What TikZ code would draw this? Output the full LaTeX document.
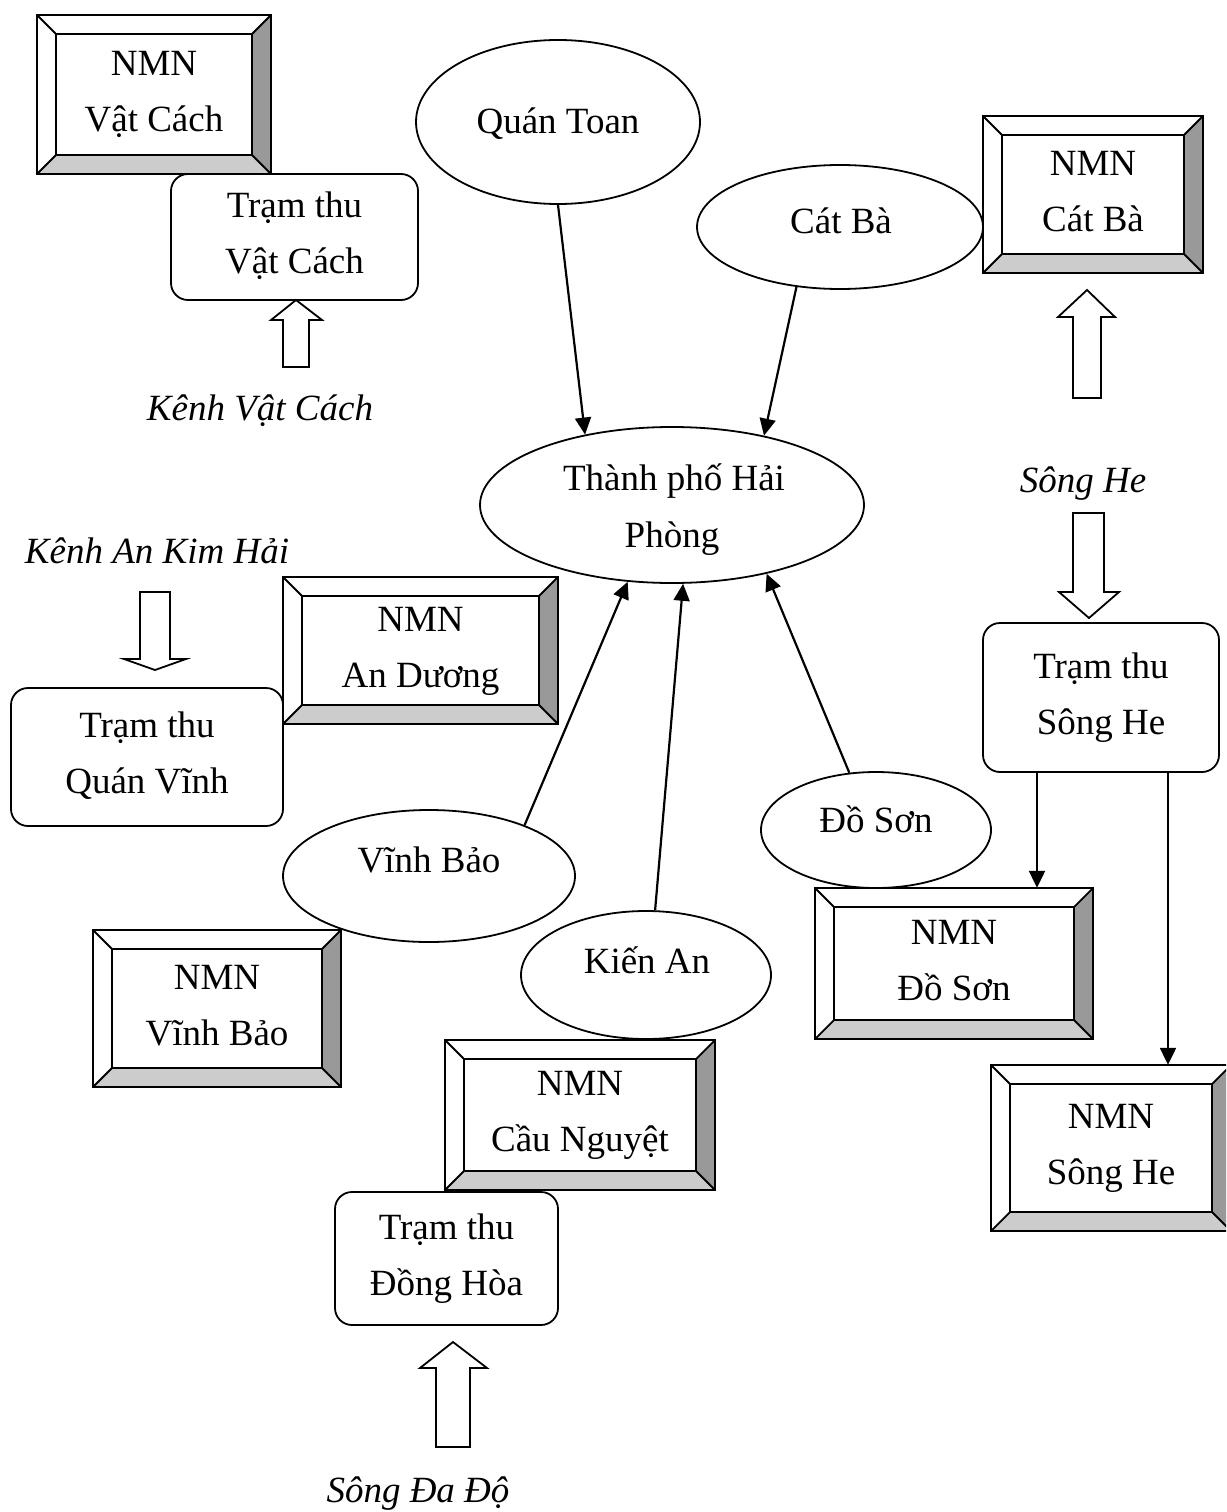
\documentclass[tikz,border=0pt]{standalone}
\usepackage{fontspec}
\setmainfont{Liberation Serif}
\usetikzlibrary{shapes.geometric,arrows.meta}
\definecolor{bevdark}{HTML}{999999}
\definecolor{bevlight}{HTML}{CCCCCC}
\newcommand\twoline[2]{\rule{0pt}{26pt}#1\\#2\rule[-9pt]{0pt}{9pt}}
\tikzset{
  txt/.style={font=\fontsize{37}{56}\selectfont, inner sep=0pt},
  itxt/.style={font=\fontsize{37}{56}\selectfont\itshape, inner sep=0pt, anchor=base},
  bevnode/.style={rectangle, draw=none, fill=white, inner sep=0pt, align=center,
    font=\fontsize{37}{56}\selectfont},
  bevline/.style={draw=black, line width=1.8pt, line join=miter},
  rbox/.style={rectangle, draw=black, fill=white, line width=1.8pt, rounded corners=17pt,
    inner sep=0pt, align=center, font=\fontsize{37}{56}\selectfont},
  ell/.style={ellipse, draw=black, fill=white, line width=1.8pt, inner sep=0pt},
  arr/.style={line width=2.2pt, -{Triangle[length=17pt,width=16pt]}},
  blockarrow/.style={draw=black, fill=white, line width=1.8pt, line join=miter}
}
\newcommand\bevbox[7]{%
  \node[bevnode, minimum width=#4pt, minimum height=#5pt] (#1) at (#2,#3) {\twoline{#6}{#7}};
  \fill[bevdark] (#1.north east) -- (#1.south east) -- ([shift={(-19pt,19pt)}]#1.south east) -- ([shift={(-19pt,-19pt)}]#1.north east) -- cycle;
  \fill[bevlight] (#1.south west) -- (#1.south east) -- ([shift={(-19pt,19pt)}]#1.south east) -- ([shift={(19pt,19pt)}]#1.south west) -- cycle;
  \draw[bevline] (#1.south west) rectangle (#1.north east);
  \draw[bevline] ([shift={(19pt,19pt)}]#1.south west) rectangle ([shift={(-19pt,-19pt)}]#1.north east);
  \draw[bevline] (#1.south west) -- ([shift={(19pt,19pt)}]#1.south west);
  \draw[bevline] (#1.south east) -- ([shift={(-19pt,19pt)}]#1.south east);
  \draw[bevline] (#1.north west) -- ([shift={(19pt,-19pt)}]#1.north west);
  \draw[bevline] (#1.north east) -- ([shift={(-19pt,-19pt)}]#1.north east);
}
\begin{document}
\begin{tikzpicture}[x=1pt,y=-1pt]
\useasboundingbox (0,0) rectangle (1226,1512);
\clip (0,0) rectangle (1226,1512);
\fill[white] (0,0) rectangle (1226,1512);

% Ellipses
\node[ell, minimum width=284pt, minimum height=164pt] (qt) at (558,122) {};
\node[ell, minimum width=286pt, minimum height=124pt] (cb) at (840,227) {};
\node[ell, minimum width=384pt, minimum height=156pt] (hp) at (672,505) {};
\node[ell, minimum width=230pt, minimum height=116pt] (ds) at (876,830) {};
\node[ell, minimum width=292pt, minimum height=132pt] (vb) at (429,876) {};
\node[ell, minimum width=250pt, minimum height=128pt] (ka) at (646,975) {};

\node[txt, anchor=base] (qtl) at (558,133) {Quán Toan};
\node[txt, anchor=base] (cbl) at (841,233) {Cát Bà};
\node[txt, anchor=base] (hpl1) at (674,490) {Thành phố Hải};
\node[txt, anchor=base] (hpl2) at (672,547) {Phòng};
\node[txt, anchor=base] (dsl) at (876,832) {Đồ Sơn};
\node[txt, anchor=base] (vbl) at (429,872) {Vĩnh Bảo};
\node[txt, anchor=base] (kal) at (647,973) {Kiến An};

% Bevel boxes
\bevbox{nvc}{154}{94.5}{234}{159}{NMN}{Vật Cách}
\bevbox{ncb}{1093}{194.5}{220}{157}{NMN}{Cát Bà}
\bevbox{nad}{420.5}{650.5}{275}{147}{NMN}{An Dương}
\bevbox{nvb}{217}{1008.5}{248}{157}{NMN}{Vĩnh Bảo}
\bevbox{ncn}{580}{1115}{270}{150}{NMN}{Cầu Nguyệt}
\bevbox{nds}{954}{963.5}{278}{151}{NMN}{Đồ Sơn}
\bevbox{nsh}{1111}{1148}{240}{166}{NMN}{Sông He}

% Rounded boxes
\node[rbox, minimum width=247pt, minimum height=126pt] (tvc) at (294.5,237) {\twoline{Trạm thu}{Vật Cách}};
\node[rbox, minimum width=272pt, minimum height=138pt] (tqv) at (147,757) {\twoline{Trạm thu}{Quán Vĩnh}};
\node[rbox, minimum width=236pt, minimum height=149pt] (tsh) at (1101,697.5) {\twoline{Trạm thu}{Sông He}};
\node[rbox, minimum width=223pt, minimum height=133pt] (tdh) at (446.5,1258.5) {\twoline{Trạm thu}{Đồng Hòa}};

% Italic labels
\node[itxt] (kvc) at (260,420) {Kênh Vật Cách};
\node[itxt] (ksh) at (1083,492) {Sông He};
\node[itxt] (kak) at (157,563) {Kênh An Kim Hải};
\node[itxt] (kdd) at (418,1502) {Sông Đa Độ};

% Block arrows
\draw[blockarrow] (296,300) -- (322,320) -- (309,320) -- (309,367) -- (283,367) -- (283,320) -- (271,320) -- cycle;
\draw[blockarrow] (1087,290) -- (1115,317) -- (1101,317) -- (1101,398) -- (1073,398) -- (1073,317) -- (1058,317) -- cycle;
\draw[blockarrow] (1089,618) -- (1119,592) -- (1104,592) -- (1104,513) -- (1073,513) -- (1073,592) -- (1059,592) -- cycle;
\draw[blockarrow] (155,670) -- (186,659) -- (170,659) -- (170,592) -- (140,592) -- (140,659) -- (124,659) -- cycle;
\draw[blockarrow] (453,1342) -- (487,1368) -- (470,1368) -- (470,1447) -- (436,1447) -- (436,1368) -- (420,1368) -- cycle;

% Connectors
\draw[arr] (qt.south) -- (hp.141);
\draw[arr] (cb.234) -- (hp.37);
\draw[arr] (vb.28) -- (hp.240);
\draw[arr] (ka.82) -- (hp.278);
\draw[arr] (ds.115) -- (hp.324);
\coordinate (s1) at ([xshift=-64pt]tsh.south);
\coordinate (s2) at ([xshift=67pt]tsh.south);
\draw[arr] (s1) -- (s1 |- nds.north);
\draw[arr] (s2) -- (s2 |- nsh.north);
\end{tikzpicture}
\end{document}
